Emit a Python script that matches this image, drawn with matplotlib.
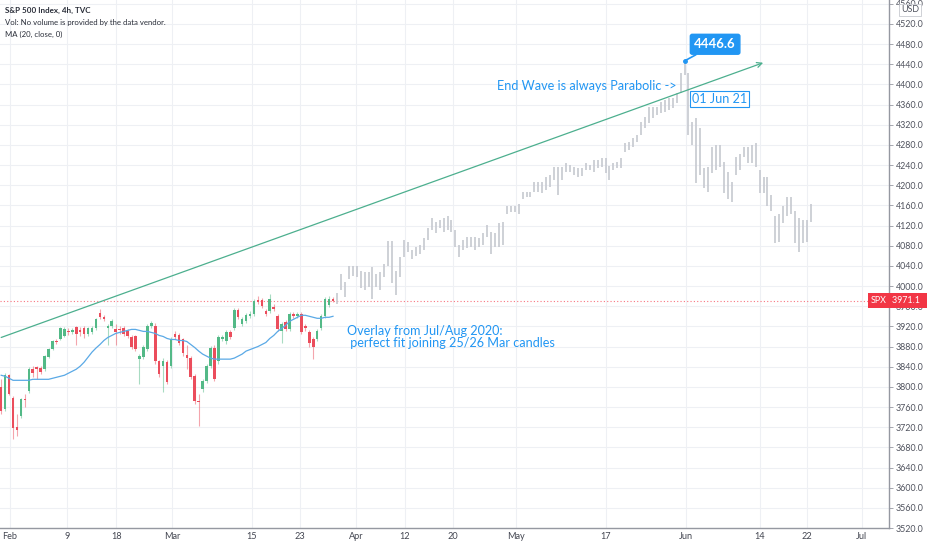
import numpy as np
import matplotlib.pyplot as plt

plt.rcParams['font.family'] = ['Lato', 'DejaVu Sans']

# 4h candles (real data up to 26 Mar)
candle_open = [3799, 3756, 3823, 3778, 3720, 3742, 3776, 3791, 3835, 3839, 3838, 3835,
               3860, 3876, 3891, 3894, 3900, 3911, 3909, 3918, 3912, 3916, 3904, 3908,
               3916, 3946, 3938, 3916, 3920, 3914, 3915, 3916, 3910, 3898, 3900, 3855,
               3859, 3875, 3920, 3920, 3851, 3841, 3850, 3841, 3904, 3902, 3894, 3864,
               3858, 3821, 3772, 3795, 3811, 3841, 3878, 3851, 3894, 3890, 3908, 3916,
               3952, 3924, 3930, 3941, 3944, 3972, 3972, 3950, 3950, 3959, 3940, 3910,
               3928, 3914, 3944, 3940, 3944, 3920, 3908, 3894, 3894, 3916, 3940, 3962,
               3973]
candle_high = [3815, 3827, 3825, 3781, 3746, 3778, 3785, 3840, 3841, 3841, 3842, 3863,
               3877, 3893, 3894, 3919, 3918, 3916, 3917, 3921, 3918, 3920, 3919, 3920,
               3937, 3954, 3942, 3924, 3934, 3924, 3920, 3920, 3914, 3902, 3903, 3865,
               3884, 3924, 3930, 3926, 3853, 3858, 3854, 3898, 3910, 3906, 3897, 3884,
               3862, 3825, 3785, 3815, 3845, 3882, 3884, 3902, 3903, 3912, 3912, 3956,
               3956, 3938, 3946, 3950, 3975, 3981, 3976, 3954, 3984, 3964, 3944, 3928,
               3932, 3948, 3948, 3948, 3948, 3924, 3912, 3898, 3914, 3944, 3978, 3980,
               3978]
candle_low = [3746, 3752, 3783, 3696, 3702, 3738, 3760, 3788, 3819, 3815, 3826, 3832,
              3858, 3874, 3886, 3892, 3898, 3902, 3905, 3884, 3900, 3896, 3900, 3905,
              3913, 3935, 3930, 3884, 3917, 3884, 3905, 3900, 3896, 3876, 3872, 3805,
              3855, 3872, 3916, 3846, 3820, 3789, 3805, 3838, 3895, 3884, 3862, 3835,
              3815, 3766, 3722, 3790, 3808, 3838, 3811, 3846, 3890, 3886, 3894, 3912,
              3934, 3920, 3926, 3937, 3940, 3964, 3956, 3940, 3946, 3950, 3910, 3888,
              3910, 3910, 3936, 3936, 3904, 3910, 3880, 3855, 3890, 3912, 3936, 3958,
              3968]
candle_close = [3752, 3823, 3785, 3718, 3714, 3776, 3773, 3835, 3827, 3836, 3829, 3861,
                3875, 3890, 3889, 3916, 3914, 3908, 3912, 3904, 3909, 3904, 3916, 3916,
                3934, 3938, 3934, 3920, 3930, 3908, 3912, 3904, 3900, 3880, 3876, 3861,
                3880, 3920, 3926, 3851, 3825, 3851, 3809, 3894, 3898, 3888, 3868, 3858,
                3819, 3772, 3770, 3811, 3841, 3878, 3815, 3898, 3898, 3908, 3898, 3952,
                3938, 3934, 3942, 3945, 3970, 3968, 3960, 3944, 3975, 3955, 3914, 3924,
                3914, 3944, 3941, 3944, 3908, 3916, 3888, 3880, 3910, 3940, 3974, 3974,
                3971.1]
ma20 = [3823, 3821, 3817, 3813, 3813, 3813, 3813, 3813, 3815, 3815, 3815, 3815,
        3815, 3817, 3819, 3821, 3823, 3827, 3831, 3835, 3841, 3849, 3859, 3869,
        3877, 3884, 3892, 3898, 3902, 3906, 3908, 3910, 3912, 3914, 3914, 3912,
        3910, 3910, 3908, 3906, 3902, 3900, 3896, 3894, 3894, 3892, 3892, 3890,
        3884, 3878, 3871, 3865, 3861, 3857, 3855, 3855, 3855, 3855, 3855, 3857,
        3861, 3865, 3871, 3874, 3877, 3880, 3884, 3888, 3896, 3902, 3910, 3916,
        3922, 3930, 3934, 3938, 3942, 3942, 3940, 3938, 3936, 3936, 3938, 3938,
        3940]

# Jul/Aug 2020 overlay projected forward (high/low only)
ghost_high = [3987, 4023, 4009, 4039, 4039, 4039, 4029, 4027, 4027, 4037, 4023, 4027,
              4043, 4090, 4090, 4029, 4057, 4092, 4088, 4072, 4078, 4082, 4096, 4116,
              4136, 4128, 4132, 4136, 4138, 4132, 4112, 4082, 4092, 4098, 4098, 4098,
              4096, 4106, 4122, 4108, 4106, 4126, 4128, 4158, 4158, 4158, 4162, 4187,
              4187, 4187, 4207, 4207, 4207, 4217, 4221, 4237, 4237, 4237, 4245, 4241,
              4237, 4235, 4235, 4245, 4241, 4251, 4251, 4255, 4255, 4239, 4245, 4247,
              4255, 4284, 4286, 4294, 4300, 4326, 4336, 4356, 4356, 4356, 4366, 4370,
              4374, 4374, 4383, 4423, 4446.6, 4423, 4326, 4334, 4314, 4235, 4237, 4276,
              4280, 4280, 4247, 4227, 4207, 4257, 4261, 4275, 4276, 4280, 4284, 4231,
              4217, 4217, 4181, 4138, 4142, 4158, 4177, 4177, 4148, 4136, 4132, 4132,
              4162]
ghost_low = [3964, 3993, 3979, 4013, 4019, 4017, 3997, 3993, 3999, 3974, 3999, 3993,
             4017, 4039, 4007, 3983, 4017, 4057, 4067, 4053, 4059, 4063, 4072, 4092,
             4112, 4106, 4116, 4108, 4112, 4108, 4078, 4057, 4072, 4076, 4078, 4072,
             4078, 4082, 4098, 4063, 4078, 4078, 4082, 4142, 4146, 4146, 4142, 4172,
             4176, 4176, 4187, 4187, 4185, 4191, 4197, 4211, 4181, 4211, 4227, 4227,
             4221, 4217, 4219, 4231, 4231, 4227, 4235, 4237, 4225, 4211, 4231, 4235,
             4235, 4266, 4270, 4276, 4286, 4300, 4314, 4324, 4334, 4340, 4344, 4346,
             4350, 4354, 4364, 4383, 4419, 4300, 4280, 4205, 4221, 4195, 4187, 4225,
             4231, 4237, 4185, 4172, 4166, 4221, 4231, 4257, 4245, 4245, 4237, 4185,
             4185, 4158, 4148, 4086, 4088, 4126, 4138, 4142, 4086, 4067, 4086, 4088,
             4128]

# trend line anchors (bar index, price)
trend_x = [0, 192.9]
trend_y = [3898, 4443]

tick_pos = [2.2, 16.7, 29.1, 43.2, 63.5, 75.6, 89.8, 102.2, 114.4, 130.3, 153.1,
            173.4, 192.1, 204.0, 217.9]
tick_labels = ['Feb', '9', '18', 'Mar', '15', '23', 'Apr', '12', '20', 'May', '17',
               'Jun', '14', '22', 'Jul']
last_price = 3971.1

UP = '#53b987'
DOWN = '#eb4d5c'
BLUE = '#2196f3'
GRID = '#eef0f4'
NOTE = 9.1

fig = plt.figure(figsize=(9.32, 5.5), dpi=100)
ax = fig.add_axes([0, 22 / 550, 889 / 932, 528 / 550])

o = np.array(candle_open, dtype=float)
h = np.array(candle_high, dtype=float)
l = np.array(candle_low, dtype=float)
c = np.array(candle_close, dtype=float)
idx = np.arange(len(c))
cols = np.where(c >= o, UP, DOWN)

# candles
ax.vlines(idx, l, h, colors=cols, lw=0.8, alpha=0.5, zorder=3)
body = np.maximum(np.abs(c - o), 2.5)
ax.bar(idx, body, bottom=np.minimum(o, c), width=0.66, color=cols, zorder=4)

# moving average
ax.plot(idx, ma20, color='#5aa9e6', lw=0.9, zorder=5)

# ghost overlay bars
gidx = len(c) + np.arange(len(ghost_high))
ax.vlines(gidx, ghost_low, ghost_high, colors='#c6c9d0', lw=1.2, zorder=2)

# last price line
ax.axhline(last_price, color='#f7525f', lw=0.8, ls=(0, (1, 2)), alpha=0.8, zorder=1)

# trend line with arrow
ax.annotate('', xy=(trend_x[1], trend_y[1]), xytext=(trend_x[0], trend_y[0]),
            arrowprops=dict(arrowstyle='->', color='#4caf8e', lw=0.9,
                            shrinkA=0, shrinkB=0, mutation_scale=9), zorder=6)

# peak callout
pk = int(np.argmax(ghost_high))
peak_x = gidx[pk]
peak_y = ghost_high[pk]
ax.plot([peak_x], [peak_y], 'o', ms=2.5, color=BLUE, zorder=7)
ax.annotate(f'{peak_y:.1f}', xy=(peak_x, peak_y), xytext=(22, 12),
            textcoords='offset points', ha='center', va='center',
            color='white', fontsize=9.5, fontweight='bold',
            bbox=dict(boxstyle='round,pad=0.3,rounding_size=0.15', fc=BLUE, ec=BLUE),
            arrowprops=dict(arrowstyle='-', color=BLUE, lw=1.2, shrinkA=0, shrinkB=0),
            zorder=8)

ax.text(peak_x + 1.8, 4371, '01 Jun 21', color=BLUE, fontsize=NOTE, ha='left', va='center',
        bbox=dict(boxstyle='square,pad=0.15', fc='white', ec=BLUE, lw=0.8), zorder=8)
ax.text(peak_x - 2.0, 4397, 'End Wave is always Parabolic ->', color=BLUE, fontsize=NOTE,
        ha='right', va='center', zorder=8)
ax.text(87.5, 3910, 'Overlay from Jul/Aug 2020:', color=BLUE, fontsize=NOTE,
        ha='left', va='center', zorder=8)
ax.text(87.5, 3887, ' perfect fit joining 25/26 Mar candles', color=BLUE, fontsize=NOTE,
        ha='left', va='center', zorder=8)

# axes styling
ax.set_xlim(-0.3, 224.76)
ax.set_ylim(3521, 4567.5)
yt = np.arange(3520, 4561, 40)
ax.set_yticks(yt)
ax.set_yticklabels([f'{v:.1f}' for v in yt])
ax.yaxis.tick_right()
ax.tick_params(axis='y', length=3, width=0.6, color='#9598a1', labelsize=6.4,
               labelcolor='#50535e', pad=2)
ax.set_xticks(tick_pos)
ax.set_xticklabels(tick_labels)
ax.tick_params(axis='x', length=0, labelsize=6.6, labelcolor='#434651', pad=3)
ax.grid(True, color=GRID, lw=0.8)
ax.set_axisbelow(True)
for s in ['top', 'left']:
    ax.spines[s].set_visible(False)
for s in ['right', 'bottom']:
    ax.spines[s].set_color('#9598a1')
    ax.spines[s].set_linewidth(1.0)

# price labels on the axis
trans = ax.get_yaxis_transform()
ax.text(1.003, last_price, f'{last_price:.1f}  ', transform=trans, ha='left', va='center',
        color='white', fontsize=6.4, clip_on=False, zorder=10,
        bbox=dict(boxstyle='square,pad=0.3', fc='#f23645', ec='none'))
ax.text(0.997, last_price, 'SPX', transform=trans, ha='right', va='center',
        color='white', fontsize=6.4, clip_on=False, zorder=10,
        bbox=dict(boxstyle='square,pad=0.3', fc='#f23645', ec='none'))
fig.text(910 / 932, 1 - 10 / 550, 'USD', ha='center', va='center', fontsize=6.4,
         color='#50535e', bbox=dict(boxstyle='square,pad=0.2', fc='white', ec='#c8cad0', lw=0.6))

# header
fig.text(5 / 932, 1 - 10 / 550, 'S&P 500 Index, 4h, TVC', fontsize=5.8, fontweight='bold',
         color='#2a2e39', va='center')
fig.text(5 / 932, 1 - 22 / 550, 'Vol: No volume is provided by the data vendor.',
         fontsize=5.6, color='#2a2e39', va='center')
fig.text(5 / 932, 1 - 34 / 550, 'MA (20, close, 0)', fontsize=5.6, color='#2a2e39',
         va='center')

fig.savefig('out.png', dpi=100)
